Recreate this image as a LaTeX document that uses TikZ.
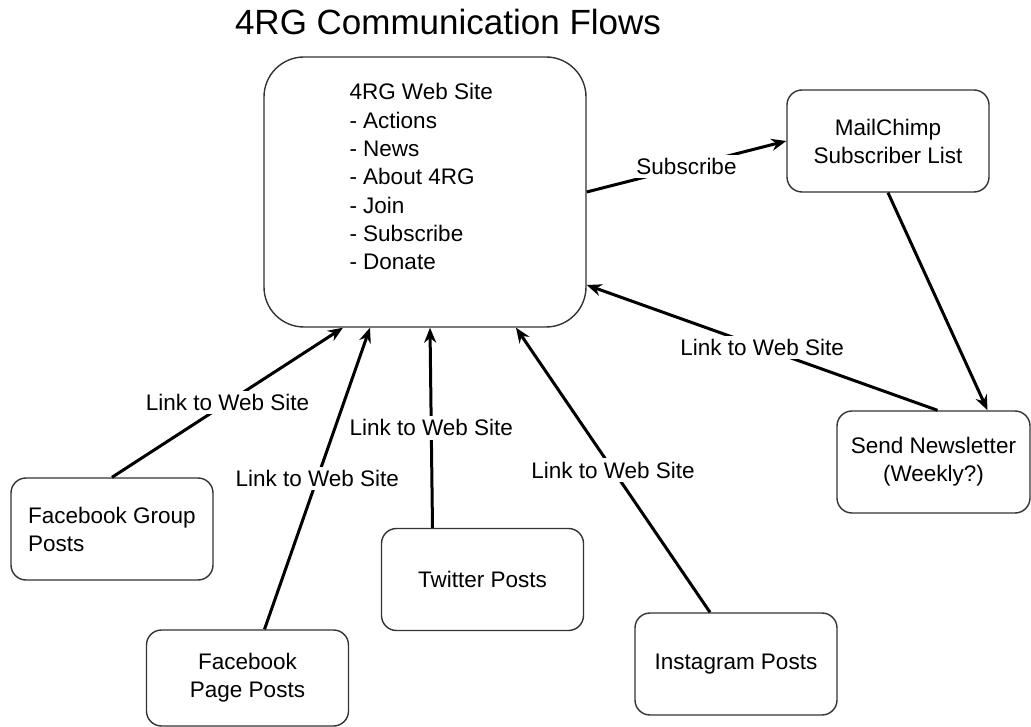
\documentclass[tikz,border=0pt]{standalone}
\usepackage{fontspec}
\setmainfont{Liberation Sans}
\usetikzlibrary{arrows.meta, positioning, calc}

\begin{document}
\begin{tikzpicture}[
                    x=1pt, y=-1pt,
                    -{Stealth[length=15pt, width=12pt]},
                    line width=3pt,
                    box/.style={draw=black!80, line width=1.4pt, rounded corners=15pt,
                                minimum width=202pt, minimum height=102pt, inner sep=0pt,
                                align=center, font=\fontsize{22.5}{28}\selectfont},
                    lbl/.style={fill=white, inner sep=3.5pt, font=\fontsize{22.5}{28}\selectfont},
                ]
                \useasboundingbox (0,0) rectangle (1031,727);

                \node[font=\fontsize{35}{40}\selectfont, anchor=base, inner sep=0pt] (title) at (448,35) {4RG Communication Flows};

                % web site and its menu
                \node[box, rounded corners=40pt, minimum width=322pt, minimum height=270pt] (web) at (425,192) {};
                \node[anchor=north west, align=left, inner sep=0pt, font=\fontsize{22.5}{28.3}\selectfont] (webtext) at (348,82)
                        {4RG Web Site\\- Actions\\- News\\- About 4RG\\- Join\\- Subscribe\\- Donate};

                \node[box] (mc) at (888,141) {MailChimp\\Subscriber List};
                \node[box, minimum width=193pt] (nl) at (933.5,462) {Send Newsletter\\(Weekly?)};
                \node[box, align=left] (fbg) at (112,529) {Facebook Group\\Posts};
                \node[box, minimum height=96pt] (fbp) at (247.5,678) {Facebook\\Page Posts};
                \node[box] (tw) at (482.5,579.5) {Twitter Posts};
                \node[box] (ig) at (736,664) {Instagram Posts};

                \draw (web.east) -- node[lbl] (lsub) {Subscribe} (mc.west);
                \draw (mc.south) -- ([xshift=54pt]nl.north);
                \draw ([xshift=4pt]nl.north) -- node[lbl] (lnl) {Link to Web Site} ([yshift=-93pt]web.east);
                \draw (fbg.north) -- node[lbl] (lfbg) {Link to Web Site} ([xshift=-82pt]web.south);
                \draw ([xshift=17pt]fbp.north) -- node[lbl] (lfbp) {Link to Web Site} ([xshift=-55pt]web.south);
                \draw ([xshift=-50pt]tw.north) -- node[lbl] (ltw) {Link to Web Site} ([xshift=5pt]web.south);
                \draw ([xshift=-26pt]ig.north) -- node[lbl] (lig) {Link to Web Site} ([xshift=91pt]web.south);
        \end{tikzpicture}
\end{document}
